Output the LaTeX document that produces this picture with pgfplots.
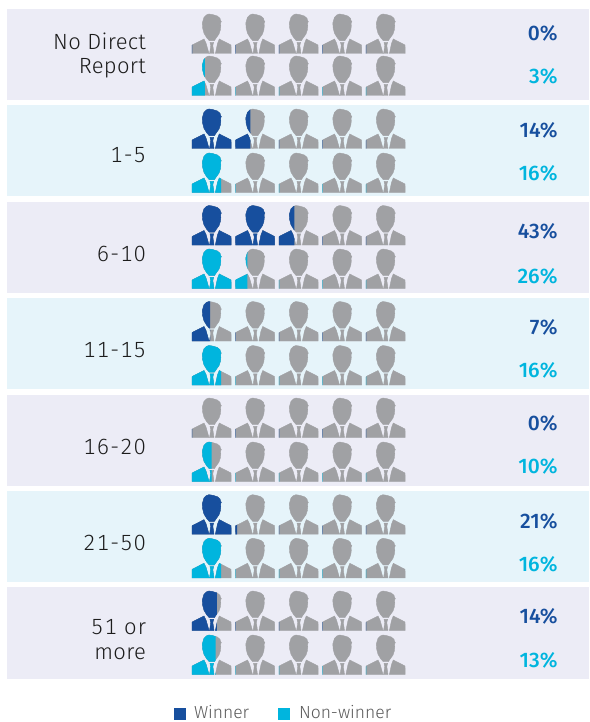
\documentclass[border=0pt]{standalone}
\usepackage{fontspec}
\setmainfont{Fira Sans Light}
\newfontfamily\wordfont[LetterSpace=1.5]{Fira Sans Light}
\newfontfamily\rangefont[Numbers=Monospaced,LetterSpace=5]{Fira Sans Light}
\newfontfamily\boldpct{Fira Sans Medium}
\usepackage{pgfplots}
\usepackage{pgfplotstable}
\pgfplotsset{compat=1.18}
\definecolor{winner}{HTML}{174F9E}
\definecolor{nonwinner}{HTML}{00B5DE}
\definecolor{icongrey}{HTML}{A0A1A4}
\definecolor{panelA}{HTML}{ECECF6}
\definecolor{panelB}{HTML}{E6F4FA}
\definecolor{labeltext}{HTML}{1C1C1C}
\definecolor{legendtext}{HTML}{5A5A5A}

% person icon, local units are picture pixels, 39 x 40
\newcommand\personpath{
  (14.3,1) -- (17,0) -- (21,0.7) -- (25.3,2) -- (28,4.3) -- (28.5,6.5) -- (29.3,7.5)
  -- (28.6,9) -- (28.8,12) -- (28.3,16) -- (27,20) -- (24.5,23.5) -- (22.3,26.7)
  -- (17.3,26.7) -- (14.7,23.7) -- (12,19.3) -- (10.7,14.3) -- (10.3,9) -- (12,3.3) -- cycle
  (0.2,31) -- (12,25) -- (14,29) -- (17,39.5) -- (0,39.5) -- cycle
  (27.3,25) -- (39,31) -- (39.2,39.5) -- (23.4,39.5) -- (25.5,29.5) -- cycle
  (18,28.3) -- (21.6,28.3) -- (20.8,31.5) -- (22,39.5) -- (17.6,39.5) -- (18.8,31.5) -- cycle
}
\newcommand\declareperson[2]{%
  \pgfdeclareplotmark{#1}{%
    \pgfmathsetmacro\fillw{39.3*(\pgfplotspointmetatransformed/1000)}%
    \pgftransformshift{\pgfqpoint{-19.5pt}{20pt}}%
    \begin{scope}[x=1pt,y=-1pt]
      \fill[icongrey] \personpath;
      \begin{pgfscope}
        \pgfpathrectanglecorners{\pgfqpoint{-1pt}{-41pt}}{\pgfqpoint{\fillw pt}{1pt}}%
        \pgfusepath{clip}%
        \fill[#2] \personpath;
      \end{pgfscope}
    \end{scope}}}
\declareperson{personW}{winner}
\declareperson{personN}{nonwinner}

\pgfplotstableread[row sep=\\]{
x y f\\
211.5 34 0\\ 255 34 0\\ 298.5 34 0\\ 342 34 0\\ 385.5 34 0\\
211.5 129 1\\ 255 129 0.38\\ 298.5 129 0\\ 342 129 0\\ 385.5 129 0\\
211.5 225.5 1\\ 255 225.5 1\\ 298.5 225.5 0.39\\ 342 225.5 0\\ 385.5 225.5 0\\
211.5 321.5 0.46\\ 255 321.5 0\\ 298.5 321.5 0\\ 342 321.5 0\\ 385.5 321.5 0\\
211.5 418 0\\ 255 418 0\\ 298.5 418 0\\ 342 418 0\\ 385.5 418 0\\
211.5 514.7 1\\ 255 514.7 0.04\\ 298.5 514.7 0\\ 342 514.7 0\\ 385.5 514.7 0\\
211.5 611 0.63\\ 255 611 0\\ 298.5 611 0\\ 342 611 0\\ 385.5 611 0\\
}\winnerdata
\pgfplotstableread[row sep=\\]{
x y f\\
211.5 76 0.33\\ 255 76 0\\ 298.5 76 0\\ 342 76 0\\ 385.5 76 0\\
211.5 173 0.74\\ 255 173 0\\ 298.5 173 0\\ 342 173 0\\ 385.5 173 0\\
211.5 269 1\\ 255 269 0.30\\ 298.5 269 0\\ 342 269 0\\ 385.5 269 0\\
211.5 365.5 0.74\\ 255 365.5 0\\ 298.5 365.5 0\\ 342 365.5 0\\ 385.5 365.5 0\\
211.5 462 0.5\\ 255 462 0\\ 298.5 462 0\\ 342 462 0\\ 385.5 462 0\\
211.5 558.3 0.74\\ 255 558.3 0\\ 298.5 558.3 0\\ 342 558.3 0\\ 385.5 558.3 0\\
211.5 655 0.6\\ 255 655 0\\ 298.5 655 0\\ 342 655 0\\ 385.5 655 0\\
}\nonwinnerdata

\begin{document}
\begin{tikzpicture}
\path[use as bounding box] (0,0) rectangle (589pt,722pt);
\begin{axis}[
    at={(0,0)}, anchor=south west,
    scale only axis,
    width=589pt, height=722pt,
    xmin=0, xmax=589, ymin=0, ymax=722,
    y dir=reverse,
    hide axis,
    clip=false,
    point meta min=0, point meta max=1,
    nodes near coords style={inner sep=0pt, outer sep=0pt},
]
% panels
\addplot[fill=panelA, draw=none] coordinates {(7,9)(589,9)(589,100)(7,100)} --cycle;
\addplot[fill=panelB, draw=none] coordinates {(7,105)(589,105)(589,196)(7,196)} --cycle;
\addplot[fill=panelA, draw=none] coordinates {(7,202)(589,202)(589,293)(7,293)} --cycle;
\addplot[fill=panelB, draw=none] coordinates {(7,298)(589,298)(589,389)(7,389)} --cycle;
\addplot[fill=panelA, draw=none] coordinates {(7,395)(589,395)(589,486)(7,486)} --cycle;
\addplot[fill=panelB, draw=none] coordinates {(7,491)(589,491)(589,582)(7,582)} --cycle;
\addplot[fill=panelA, draw=none] coordinates {(7,587)(589,587)(589,679)(7,679)} --cycle;
% icons
\addplot[scatter, only marks, mark=personW, point meta=explicit,
    scatter/@pre marker code/.code={}, scatter/@post marker code/.code={}]
    table[x=x,y=y,meta=f] {\winnerdata};
\addplot[scatter, only marks, mark=personN, point meta=explicit,
    scatter/@pre marker code/.code={}, scatter/@post marker code/.code={}]
    table[x=x,y=y,meta=f] {\nonwinnerdata};
% category labels, baselines
\addplot[draw=none, point meta=explicit symbolic, nodes near coords,
    nodes near coords style={anchor=base east, text=labeltext, font=\fontsize{22}{22}\wordfont}]
  coordinates {(146,50)[No Direct] (146,74)[Report] (146,659)[more]};
\addplot[draw=none, point meta=explicit symbolic, nodes near coords,
    nodes near coords style={anchor=base east, text=labeltext, font=\fontsize{22}{22}\rangefont}]
  coordinates {(146,163)[1-5] (146,261)[6-10] (146,357)[11-15] (146,454)[16-20]
    (146,550)[21-50] (146,634)[51 or]};
% percentages
\addplot[draw=none, point meta=explicit symbolic, nodes near coords,
    nodes near coords style={anchor=base east, text=winner, font=\fontsize{21}{21}\boldpct}]
  coordinates {(557.5,41)[0\%] (557.5,138)[14\%] (557.5,238)[43\%] (557.5,334)[7\%]
    (557.5,430)[0\%] (557.5,528)[21\%] (557.5,623)[14\%]};
\addplot[draw=none, point meta=explicit symbolic, nodes near coords,
    nodes near coords style={anchor=base east, text=nonwinner, font=\fontsize{21}{21}\boldpct}]
  coordinates {(557.5,84)[3\%] (557.5,181)[16\%] (557.5,283)[26\%] (557.5,377)[16\%]
    (557.5,473)[10\%] (557.5,571)[16\%] (557.5,667)[13\%]};
% legend
\addplot[only marks, mark=square*, mark size=5.7pt, color=winner] coordinates {(179.7,713.5)};
\addplot[only marks, mark=square*, mark size=5.7pt, color=nonwinner] coordinates {(283.8,713.5)};
\addplot[draw=none, point meta=explicit symbolic, nodes near coords,
    nodes near coords style={anchor=base west, text=legendtext, font=\fontsize{17.5}{18}\selectfont}]
  coordinates {(194,718.5)[Winner] (299,718.5)[Non-winner]};
\end{axis}
\end{tikzpicture}
\end{document}
